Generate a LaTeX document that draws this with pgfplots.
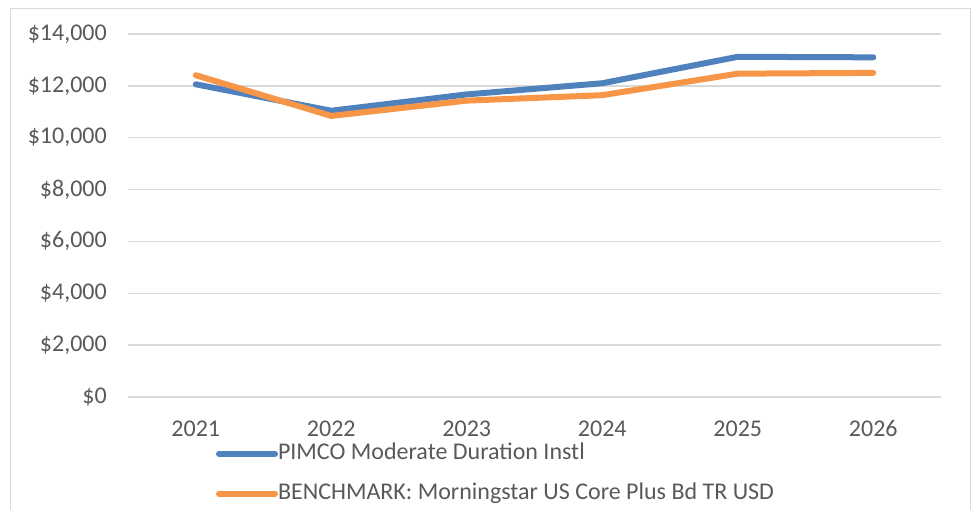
\documentclass[border=0pt]{standalone}
\usepackage{fontspec}
\setmainfont{Carlito}
\usepackage{pgfplots}
\pgfplotsset{compat=1.18}
\definecolor{lblue}{RGB}{79,129,189}
\definecolor{lorange}{RGB}{247,150,70}
\definecolor{gridc}{RGB}{217,217,217}
\definecolor{txt}{RGB}{89,89,89}
\begin{document}
\begin{tikzpicture}[x=1pt,y=1pt]
\useasboundingbox (0,0) rectangle (977,510);
\draw[gridc, line width=1.5pt] (10.5,501.5) rectangle (970.5,-10);
\begin{axis}[
  at={(128pt,113pt)}, anchor=south west,
  scale only axis, width=813pt, height=363pt,
  xmin=-0.5, xmax=5.5, ymin=0, ymax=14000,
  scaled y ticks=false,
  axis line style={draw=none},
  major tick length=0pt,
  tick style={draw=none},
  ymajorgrids, grid style={gridc, line width=1.5pt},
  xtick={0,1,2,3,4,5},
  xticklabels={2021,2022,2023,2024,2025,2026},
  ytick={0,2000,4000,6000,8000,10000,12000,14000},
  yticklabels={\$0,\$2{,}000,\$4{,}000,\$6{,}000,\$8{,}000,\$10{,}000,\$12{,}000,\$14{,}000},
  ticklabel style={font=\fontsize{24}{28}\selectfont, text=txt},
  yticklabel style={inner sep=0pt, anchor=east, xshift=-21pt},
  xticklabel style={inner sep=0pt, anchor=north, text height=15pt, text depth=0pt, yshift=-24pt},
  legend cell align=left,
  legend style={draw=none, fill=none, at={(0.108,-0.1265)}, anchor=north west,
    font=\fontsize{24}{28}\selectfont, text=txt, inner sep=0pt,
    nodes={inner sep=0pt, text height=16pt, text depth=5pt},
    row sep=19pt},
  legend image code/.code={\draw[#1, line width=6pt, line cap=round] (3pt,0pt) -- (52pt,0pt); \path (0pt,0pt) -- (56pt,0pt);},
  clip=false,
]
\addplot[lblue, line width=6pt, line cap=round, line join=round] coordinates {
  (0,12060) (1,11040) (2,11670) (3,12100) (4,13120) (5,13100)};
\addlegendentry{PIMCO Moderate Duration Instl}
\addplot[lorange, line width=6pt, line cap=round, line join=round] coordinates {
  (0,12410) (1,10840) (2,11430) (3,11640) (4,12470) (5,12500)};
\addlegendentry{BENCHMARK: Morningstar US Core Plus Bd TR USD}
\end{axis}
\end{tikzpicture}
\end{document}
